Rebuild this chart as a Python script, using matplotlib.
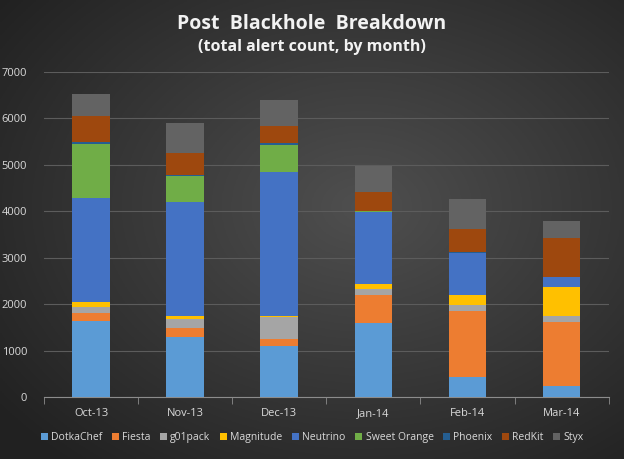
import numpy as np
import matplotlib
matplotlib.use("Agg")
import matplotlib.pyplot as plt
from matplotlib.patches import Patch

months = ["Oct-13", "Nov-13", "Dec-13", "Jan-14", "Feb-14", "Mar-14"]
families = ["DotkaChef", "Fiesta", "g01pack", "Magnitude", "Neutrino",
            "Sweet Orange", "Phoenix", "RedKit", "Styx"]

# alert counts per family, one value per month
dotkachef = [1640, 1285, 1110, 1600, 430, 245]
fiesta = [180, 195, 150, 590, 1420, 1380]
g01pack = [120, 195, 470, 140, 135, 130]
magnitude = [110, 80, 20, 115, 215, 625]
neutrino = [2240, 2450, 3100, 1530, 910, 200]
sweet_orange = [1160, 550, 570, 30, 0, 0]
phoenix = [45, 35, 50, 10, 10, 0]
redkit = [560, 475, 370, 410, 490, 855]
styx = [470, 645, 560, 550, 645, 365]

series = [dotkachef, fiesta, g01pack, magnitude, neutrino,
          sweet_orange, phoenix, redkit, styx]
colors = ["#5B9BD5", "#ED7D31", "#A5A5A5", "#FFC000", "#4472C4",
          "#70AD47", "#255E91", "#9E480E", "#636363"]

plt.rcParams["font.family"] = ["Open Sans", "DejaVu Sans"]
txt = "#d9d9d9"

fig = plt.figure(figsize=(6.24, 4.59), dpi=100)

# dark radial background
bg = fig.add_axes([0, 0, 1, 1], zorder=-10)
yy, xx = np.mgrid[0:1:200j, 0:1:270j]
r = np.sqrt(((xx - 0.58) / 0.9) ** 2 + ((yy - 0.45) / 0.9) ** 2)
shade = np.clip(0.31 - 0.22 * r, 0.13, 0.31)
bg.imshow(np.dstack([shade] * 3), extent=[0, 1, 0, 1], aspect="auto")
bg.axis("off")

ax = fig.add_axes([0.0705, 0.135, 0.905, 0.708])
ax.patch.set_alpha(0)

x = np.arange(len(months))
bottom = np.zeros(len(months))
for name, vals, c in zip(families, series, colors):
    ax.bar(x, vals, 0.4, bottom=bottom, color=c, label=name, zorder=3)
    bottom += np.array(vals)

ax.set_xlim(-0.5, len(months) - 0.5)
ax.set_ylim(0, 7000)
ax.set_yticks(range(0, 7001, 1000))
ax.grid(axis="y", color="#5c5c5c", linewidth=0.8, zorder=0)
ax.set_xticks(x)
ax.set_xticklabels(months, color=txt, fontsize=8)
ax.tick_params(axis="x", length=0, pad=8)
ax.set_xticks(np.arange(-0.5, len(months)), minor=True)
ax.tick_params(axis="x", which="minor", length=5, color="#8c8c8c")
ax.tick_params(axis="y", length=0, colors=txt, labelsize=8, pad=12)
for s in ["left", "right", "top"]:
    ax.spines[s].set_visible(False)
ax.spines["bottom"].set_color("#8c8c8c")

fig.text(0.5, 0.948, "Post  Blackhole  Breakdown", ha="center", va="center",
         color="#f2f2f2", fontsize=14, fontweight="bold")
fig.text(0.5, 0.897, "(total alert count, by month)", ha="center", va="center",
         color="#f2f2f2", fontsize=11.5, fontweight="bold")

handles = [Patch(facecolor=c, label=n) for n, c in zip(families, colors)]
fig.legend(handles=handles, loc="center", bbox_to_anchor=(0.5, 0.047), ncol=9,
           frameon=False, fontsize=7.5, labelcolor=txt, handlelength=0.7,
           handleheight=0.7, handletextpad=0.3, columnspacing=0.9)

fig.savefig("out.png", dpi=100)
